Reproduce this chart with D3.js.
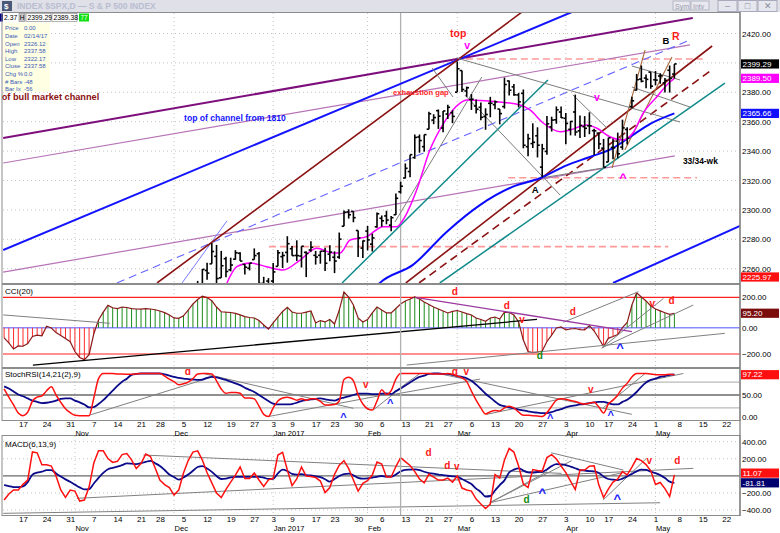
<!DOCTYPE html>
<html>
<head>
<meta charset="utf-8">
<title>$SPX daily</title>
<script src="https://cdn.jsdelivr.net/npm/d3@7/dist/d3.min.js"></script>
<style>
  body { margin: 0; background: #fff; }
  svg { display: block; font-family: "Liberation Sans", Arial, sans-serif; }
</style>
</head>
<body>
<svg id="chart" width="780" height="533"></svg>
<script>
'use strict';

// trading-day index: 0 = Mon 17 Oct 2016, 139 = Mon 8 May 2017
var firstDay = -4;   // first indicator value is Tue 11 Oct 2016

var weekTicks  = [0,5,10,15,20,25,29,34,39,44,49,53,57,62,66,71,76,81,86,90,95,100,105,110,115,120,124,129,134,139,144,149];
var weekLabels = ['17','24','31','7','14','21','28','5','12','19','27','3','9','17','23','30','6','13','21','27','6','13','20','27','3','10','17','24','1','8','15','22'];
var monthTicks  = [11,32,53,73,92,115,134];
var monthLabels = ['Nov','Dec','Jan 2017','Feb','Mar','Apr','May'];

var priceTicks = [2260,2280,2300,2320,2340,2360,2380,2400,2420];
var cciTicks   = [200,0,-200];
var stochTicks = [50,0];
var macdTicks  = [400,200,-200,-400];

// price bars, first bar = Thu 8 Dec 2016 (index 37)
var barFirst = 37;
var barOpen  = [2241.1,2249.7,2258.8,2263.3,2268.4,2253.8,2266.8,2259.2,2266.5,2270.5,2262.9,2260.3,2266.2,2270.2,2250.0,2251.6,2251.6,2261.6,2268.2,2271.1,2273.6,2269.0,2268.6,2271.1,2272.7,2269.1,2269.1,2271.9,2269.9,2267.8,2267.9,2288.9,2298.6,2299.0,2286.0,2274.0,2285.6,2276.7,2288.5,2294.3,2295.9,2289.6,2296.7,2312.3,2321.7,2326.1,2335.6,2349.6,2343.0,2354.9,2361.1,2367.5,2355.7,2365.2,2366.1,2380.1,2394.8,2380.9,2375.2,2370.7,2369.8,2363.5,2372.5,2371.6,2368.6,2370.3,2387.7,2383.7,2378.2,2379.3,2343.0,2345.1,2350.4,2329.1,2339.8,2356.5,2361.3,2366.6,2362.3,2354.8,2366.6,2353.8,2356.6,2357.2,2353.9,2352.2,2342.0,2332.6,2342.5,2346.8,2342.7,2354.7,2370.3,2381.5,2389.0,2389.7,2393.7,2388.5,2391.1,2386.5,2395.0,2392.4];
var barHigh  = [2251.7,2259.8,2264.0,2277.5,2276.2,2272.1,2268.1,2267.5,2272.6,2271.2,2263.2,2263.8,2273.8,2271.3,2254.5,2253.6,2263.9,2272.8,2271.5,2282.1,2275.5,2279.3,2275.3,2271.8,2278.7,2272.1,2272.0,2274.3,2276.0,2271.8,2284.6,2299.6,2300.4,2299.0,2286.0,2279.1,2289.1,2283.9,2298.3,2296.2,2299.4,2295.9,2311.1,2319.2,2331.6,2337.6,2351.3,2351.3,2351.2,2366.7,2365.1,2368.3,2367.3,2371.5,2367.8,2401.0,2394.8,2383.9,2378.8,2375.1,2373.1,2369.1,2376.9,2374.4,2368.6,2390.0,2388.1,2385.7,2379.6,2381.9,2351.8,2358.9,2356.2,2344.9,2363.8,2363.4,2370.4,2370.4,2365.9,2360.5,2378.4,2364.2,2363.8,2366.4,2355.2,2352.7,2348.3,2349.1,2348.4,2352.6,2361.4,2356.2,2377.0,2392.5,2398.2,2392.1,2393.7,2394.5,2392.9,2389.8,2398.2,2399.3];
var barLow   = [2237.6,2249.2,2252.4,2263.3,2248.4,2253.8,2254.2,2258.2,2266.1,2265.2,2256.1,2258.8,2266.2,2249.1,2244.6,2233.6,2245.1,2261.6,2260.5,2264.1,2268.8,2265.3,2260.8,2254.3,2271.5,2262.8,2263.4,2258.4,2265.0,2257.0,2266.7,2288.9,2294.1,2291.6,2268.0,2267.2,2272.4,2271.7,2287.9,2288.6,2290.2,2285.4,2296.6,2311.1,2321.4,2322.2,2334.8,2338.9,2339.6,2354.9,2358.3,2355.1,2352.9,2361.9,2359.0,2380.1,2380.2,2376.9,2368.0,2365.5,2361.0,2354.5,2363.0,2368.5,2358.2,2368.9,2377.8,2377.6,2369.7,2341.9,2336.5,2342.1,2335.7,2322.3,2337.6,2353.3,2358.6,2362.6,2344.7,2350.7,2350.5,2348.9,2349.6,2351.5,2337.3,2341.2,2329.0,2332.5,2334.5,2335.1,2340.9,2344.5,2369.2,2381.2,2386.8,2382.7,2382.4,2384.8,2385.8,2379.8,2379.8,2389.4];
var barClose = [2246.2,2259.5,2257.0,2271.7,2253.3,2262.0,2258.1,2262.5,2270.8,2265.2,2261.0,2263.8,2268.9,2249.9,2249.3,2238.8,2257.8,2270.8,2269.0,2277.0,2268.9,2268.9,2275.3,2270.4,2274.6,2267.9,2271.9,2263.7,2271.3,2265.2,2280.1,2298.4,2296.7,2294.7,2280.9,2278.9,2279.6,2280.9,2297.4,2292.6,2293.1,2294.7,2307.9,2316.1,2328.3,2337.6,2349.3,2347.2,2351.2,2365.4,2362.8,2363.8,2367.3,2369.8,2363.6,2396.0,2381.9,2383.1,2375.3,2368.4,2363.0,2364.9,2372.6,2373.5,2365.5,2385.3,2381.4,2378.3,2373.5,2344.0,2348.5,2346.0,2344.0,2341.6,2358.6,2361.1,2368.1,2362.7,2358.8,2360.2,2353.0,2357.5,2355.5,2357.2,2353.8,2344.9,2329.0,2349.0,2342.2,2338.2,2355.8,2348.7,2374.2,2388.6,2387.5,2388.8,2384.2,2388.3,2391.2,2388.1,2389.5,2399.3];

// moving averages: [day index, price]
var maFast = [[43.2,2250.3],[45.3,2261.4],[48.1,2263.9],[51.6,2261.4],[55.1,2259.1],[58.7,2265.9],[62.2,2273.9],[65.7,2270.7],[67.2,2270.7],[69.3,2279.5],[72.8,2281.8],[76.3,2288.6],[79.2,2288.6],[80.5,2293.1],[83.4,2313.5],[86.2,2340.7],[89.0,2358.4],[92.6,2372.7],[94.0,2374.8],[100.4,2373.6],[105.3,2371.4],[107.4,2368.0],[110.2,2359.1],[113.8,2353.2],[115.9,2354.4],[119.4,2357.8],[121.5,2355.7],[124.3,2349.8],[127.1,2347.6],[129.2,2352.3],[131.4,2365.9],[134.3,2377.0],[137.1,2387.2],[138,2389.5]];
var maSlow = [[74.0,2245.0],[75.6,2250.3],[82.6,2262.6],[89.8,2285.2],[96.8,2303.3],[103.8,2315.8],[109.5,2321.5],[115.3,2330.5],[120.1,2336.0],[125.0,2342.1],[128.6,2349.6],[132.8,2358.4],[138,2365.66]];

// indicator values, one per trading day from index -4 to 138
var cci = [-78,-116,-162,-139,-141,-121,-67,-56,-62,10,-2,-37,-60,-83,-107,-181,-226,-243,-205,-46,51,102,147,131,126,136,133,126,123,122,126,123,118,110,99,84,64,62,78,116,156,185,208,199,178,136,105,102,100,94,84,73,67,64,47,18,-10,31,70,107,134,103,95,95,103,110,31,47,38,54,24,116,235,202,149,64,38,54,97,136,116,97,97,126,156,176,189,203,189,169,153,136,123,110,97,107,113,103,93,84,64,54,42,64,70,57,103,100,84,38,-94,-181,-190,-185,-177,-105,-56,-2,5,-17,-10,-6,-14,-17,14,-25,-82,-143,-81,-67,-52,1,34,149,230,202,176,143,123,111,98,88,95.2];
var stochK = [64,45,27,8,2,10,36,45,48,60,69,50,33,18,9,3,2,2,2,43,88,100,100,100,99,99,98,98,99,100,100,100,100,100,94,87,81,74,76,80,88,99,100,100,99,83,64,54,56,56,54,43,43,41,24,5,0,20,36,43,45,42,38,41,38,41,41,35,27,27,28,36,86,91,83,50,29,18,15,36,62,51,60,87,100,100,100,100,100,100,100,99,99,99,100,98,94,90,81,59,38,20,6,11,14,13,20,24,20,10,3,3,2,1,0,9,24,38,41,40,37,35,31,29,31,33,22,8,29,38,50,66,77,92,100,100,100,99,97,97,97,98,97.22];
var stochD = [70,65,58,51,47,42,37,34,31,32,34,37,41,42,42,37,33,28,21,22,29,38,49,60,71,81,88,97,99,100,100,100,100,100,98,95,92,90,88,87,86,85,86,90,92,91,88,85,81,77,73,67,62,57,50,43,36,30,28,28,28,29,32,36,38,40,41,42,40,38,37,41,44,47,50,53,53,53,52,52,53,54,52,59,65,72,79,86,92,95,99,100,100,99,99,97,94,92,89,83,74,64,53,44,35,27,24,21,19,16,14,12,10,9,8,8,10,14,17,21,24,26,28,29,31,33,34,34,31,28,28,34,39,47,57,69,79,85,88,92,94,97,98];
var macd = [-283,-213,-166,-166,-100,-49,280,270,131,129,115,-2,-166,-252,-166,-178,-295,-283,-131,150,294,294,203,158,170,249,261,187,85,144,255,226,91,-49,-102,-137,-225,-166,33,179,279,293,185,37,-82,-201,-254,-158,-73,9,103,-32,-32,33,-49,-125,-47,-29,244,275,68,-114,-37,103,-2,-8,-20,-61,-196,-137,18,126,177,84,-49,-178,-88,-55,9,162,138,-14,-14,109,214,167,121,50,-37,-82,21,-14,-49,-49,-26,-73,-2,-143,-166,-178,-272,-330,-383,-330,15,-26,185,320,279,115,-96,-137,74,62,56,214,249,197,115,37,-61,-160,68,68,112,118,-108,-254,-155,-73,-37,50,12,103,203,179,132,59,-102,-78,-149,-242,11.07];
var macdSignal = [-108,-119,-131,-131,-123,-73,15,39,49,66,68,28,-8,-41,-70,-103,-135,-158,-155,-90,-23,35,78,94,109,126,146,143,138,148,164,176,148,115,68,16,-14,-45,-20,15,59,104,115,85,47,-2,-37,-32,-18,-11,-11,-11,-11,-11,-11,-21,-37,-34,28,73,56,23,15,21,9,4,-6,-14,-40,-68,-37,-2,21,26,6,-23,-33,-29,-20,-11,-2,-9,-9,16,52,70,73,75,68,48,33,26,15,9,1,-5,-11,-37,-67,-96,-149,-190,-242,-236,-172,-108,-53,39,73,88,62,41,39,45,48,75,115,138,134,126,109,89,68,62,56,52,33,-8,-37,-45,-49,-32,-6,21,53,73,70,49,33,9,-26,-68,-81.81];

// drawn trend lines on the price panel: [day1, price1, day2, price2]
var purpleThickLines = [[-4.2,2348.9,141.9,2430.5]];
var orchidLines      = [[-4.2,2331.9,141.3,2412.2],[-4.2,2257.7,138.1,2336.7]];
var blueThickLines   = [[-4.2,2272.7,116.3,2434.6],[125,2250.3,151.9,2289.1]];
var maroonLines      = [[28.4,2250.3,105.7,2434.6],[81.1,2250.3,146,2411.5]];
var maroonDashLines  = [[83.9,2250.3,146.2,2395.9]];
var blueDashLines    = [[19.9,2250.3,141.3,2415.6]];
var blueThinLines    = [[33.7,2250.3,43.2,2292.5]];
var tealLines        = [[67.6,2250.3,111.2,2388.4],[88.3,2250.3,148.7,2386.3]];
var brownLines       = [[124.8,2328.5,131.8,2408.8],[127.5,2340.8,137.5,2404.0]];
var greyLines        = [[91.9,2403.3,139.2,2359.8],[86.7,2396.5,91.1,2376.8],[93.6,2378.2,113.8,2310.1],[116.5,2378.2,123.7,2355.7],[109.7,2321.7,122.9,2328.5],[78.8,2291.8,97.2,2390.4],[129,2397.9,139.2,2388.4],[129,2383.6,141.3,2370.0]];
var pinkDashLines    = [[52.1,2275.0,136.7,2275.0],[102.8,2321.9,142.8,2321.9],[91.5,2402.7,144,2402.7]];

// indicator trend lines: [day1, value1, day2, value2]
var cciGreyLines   = [[-4.2,84,18.4,29],[81.3,-284,148.7,-43],[114.5,36,130.4,237],[122.6,-154,135.7,193],[122.6,-154,142,149]];
var cciBlackLines  = [[2.1,-284,108.9,55]];
var cciPurpleLines = [[83.1,200,129,-30]];
var stochGreyLines = [[14.2,3.5,40.3,92.6],[38.2,100,70,19],[52,0,77.4,52],[74.2,15,78.8,55],[77.8,50,84.1,100],[77.8,50,96.8,87],[88,100,129,5],[98.2,5,139.9,100],[122.9,20,131.8,100]];
var macdGreyLines  = [[25.5,244,114.1,29],[11.4,-263,142,88],[-4.2,-439,135,-315],[98.9,-315,116.2,177],[98.9,-315,111,48],[98.9,-315,127.2,40],[111.9,270,127.2,68],[122.9,-283,132.1,205]];

// annotations: [day, value, text]
var mainRedNotes     = [[92.2,2420.3,'top'],[138.3,2418.3,'R']];
var mainGapNotes     = [[84.3,2380.2,'exhaustion gap']];
var mainMagentaNotes = [[94.1,2412.2,'v'],[121.6,2376.8,'v']];
var mainMagentaCarets= [[127.1,2323.7,'^']];
var mainBlackNotes   = [[108.5,2313.5,'A'],[136.2,2414.9,'B']];
var mainWeekNotes    = [[139.8,2333.3,'33/34-wk']];
var mainBlueNotes    = [[44.9,2362.5,'top of channel from 1810']];
var mainChannelNotes = [[-4.5,2376.8,'of bull market channel']];
var cciRedNotes   = [[91.5,241,'d'],[102.5,149,'d'],[105.7,51,'v'],[116.5,105,'d'],[133.3,156,'v'],[137.4,178,'d']];
var cciGreenNotes = [[109.5,-215,'d']];
var cciCarets     = [[126.5,-131,'^']];
var stochRedNotes = [[34.9,104,'d'],[72.6,75,'v'],[91.5,104,'d'],[93.9,104,'v'],[120.3,63,'v']];
var stochCarets   = [[67.9,2,'^'],[77.8,34,'^'],[111.7,1,'^'],[124.5,7,'^']];
var macdRedNotes  = [[85.9,270,'d'],[89.9,118,'d'],[91.9,107,'v'],[132.7,185,'v'],[138.6,185,'d']];
var macdGreenNotes= [[106.7,-275,'d']];
var macdCarets    = [[110,-166,'^'],[125.9,-237,'^']];

var cursorDay = 80;

var infoLabels = ['Price','Date','Open','High','Low','Close','Chg %','# Bars','Bar Ix'];
var infoValues = ['0.00','02/14/17','2326.12','2337.58','2322.17','2337.58','0.0','-48','-56'];

// ---------------------------------------------------------------------------
var svg = d3.select('#chart');
var W = 780, H = 533, left = 3, right = 740;

var x      = d3.scaleLinear().domain([0, 139]).range([23, 679.1]);
var yMain  = d3.scaleLinear().domain([2260, 2420]).range([268.7, 33.5]);
var yCci   = d3.scaleLinear().domain([-200, 0, 200]).range([354, 327.7, 297.3]);
var yStoch = d3.scaleLinear().domain([0, 100]).range([416.5, 373.5]);
var yMacd  = d3.scaleLinear().domain([-400, 400]).range([510, 441.7]);

var panels = [
    {id: 'main',  top: 13,  bottom: 283},
    {id: 'cci',   top: 285, bottom: 367},
    {id: 'stoch', top: 369, bottom: 420},
    {id: 'macd',  top: 436, bottom: 515}
];

svg.append('rect').attr('width', W).attr('height', H).attr('fill', '#fff');

var defs = svg.append('defs');
panels.forEach(function(p) {
    defs.append('clipPath').attr('id', 'clip-' + p.id)
        .append('rect').attr('x', left).attr('y', p.top)
        .attr('width', right - left).attr('height', p.bottom - p.top);
});

var panelG = function(id) {
    return svg.append('g').attr('clip-path', 'url(#clip-' + id + ')');
};

var drawSegs = function(g, segs, ys, color, width, dash) {
    g.append('g').selectAll('line').data(segs).enter().append('line')
        .attr('x1', function(d) { return x(d[0]); })
        .attr('y1', function(d) { return ys(d[1]); })
        .attr('x2', function(d) { return x(d[2]); })
        .attr('y2', function(d) { return ys(d[3]); })
        .attr('stroke', color)
        .attr('stroke-width', width)
        .attr('stroke-dasharray', dash || null);
};

var drawNotes = function(g, notes, ys, color, size, anchor, weight, dy) {
    g.append('g').selectAll('text').data(notes).enter().append('text')
        .attr('x', function(d) { return x(d[0]); })
        .attr('y', function(d) { return ys(d[1]); })
        .attr('dy', dy || '0.35em')
        .attr('text-anchor', anchor || 'middle')
        .attr('font-size', size)
        .attr('font-weight', weight || 'bold')
        .attr('fill', color)
        .text(function(d) { return d[2]; });
};

var monthGrid = function(g, p) {
    g.append('g').selectAll('line').data(monthTicks).enter().append('line')
        .attr('x1', function(d) { return x(d); }).attr('x2', function(d) { return x(d); })
        .attr('y1', p.top).attr('y2', p.bottom)
        .attr('stroke', '#c4c4c4').attr('stroke-dasharray', '1,3');
};

var levelGrid = function(g, vals, ys) {
    g.append('g').selectAll('line').data(vals).enter().append('line')
        .attr('x1', left).attr('x2', right)
        .attr('y1', function(d) { return ys(d); }).attr('y2', function(d) { return ys(d); })
        .attr('stroke', '#c4c4c4').attr('stroke-dasharray', '1,3');
};

var rightAxis = function(ys, ticks) {
    var g = svg.append('g').attr('transform', 'translate(' + right + ',0)')
        .call(d3.axisRight(ys).tickValues(ticks).tickFormat(d3.format('.2f')).tickSize(0).tickPadding(2));
    g.select('.domain').remove();
    g.selectAll('text').attr('font-size', 8).attr('font-family', '"Liberation Sans", Arial, sans-serif').attr('fill', '#000');
};

var valueBox = function(yc, label, fill, color) {
    svg.append('rect').attr('x', right + 1).attr('y', yc - 4.6).attr('width', 38).attr('height', 9.2).attr('fill', fill);
    svg.append('text').attr('x', right + 2.5).attr('y', yc).attr('dy', '0.35em')
        .attr('font-size', 8).attr('fill', color || '#fff').text(label);
};

var days = d3.range(firstDay, firstDay + cci.length);

// ---------------- title bar ----------------
svg.append('rect').attr('width', W).attr('height', 12).attr('fill', '#dfe0e8');
svg.append('rect').attr('x', 2).attr('y', 1).attr('width', 10).attr('height', 10).attr('fill', '#4a5878');
svg.append('text').attr('x', 4).attr('y', 9).attr('font-size', 8).attr('font-weight', 'bold').attr('fill', '#fff').text('$');
svg.append('text').attr('x', 17).attr('y', 9).attr('font-size', 8.5).attr('font-weight', 'bold')
    .attr('fill', '#b9bdd0').text('INDEX $SPX,D \u2014 S & P 500 INDEX');
[['Sym', 673, 17], ['Intv', 691, 18]].forEach(function(b) {
    svg.append('rect').attr('x', b[1]).attr('y', 1).attr('width', b[2]).attr('height', 9)
        .attr('fill', '#e8e8ee').attr('stroke', '#b4b6c4');
    svg.append('text').attr('x', b[1] + 2).attr('y', 8.5).attr('font-size', 7).attr('fill', '#9a9cb0').text(b[0]);
});
[718, 738, 758].forEach(function(bx, k) {
    svg.append('rect').attr('x', bx).attr('y', 0.5).attr('width', 19).attr('height', 11)
        .attr('fill', '#e6e7ee').attr('stroke', '#a8aabb');
    svg.append('text').attr('x', bx + 9.5).attr('y', 9).attr('text-anchor', 'middle')
        .attr('font-size', 9).attr('fill', '#8a8ca0').text(['\u2013', '\u25A1', '\u2715'][k]);
});

// ---------------- price panel ----------------
var pMain = panels[0];
var gMain = panelG('main');
levelGrid(gMain, priceTicks, yMain);
monthGrid(gMain, pMain);
gMain.append('line').attr('x1', x(cursorDay)).attr('x2', x(cursorDay)).attr('y1', pMain.top).attr('y2', pMain.bottom)
    .attr('stroke', '#b0b0b0').attr('stroke-width', 1.3);

drawSegs(gMain, pinkDashLines, yMain, '#ff9a9a', 1.6, '7,4');
drawSegs(gMain, orchidLines, yMain, '#b673b6', 1.2);
drawSegs(gMain, purpleThickLines, yMain, '#7d0f7d', 2);
drawSegs(gMain, blueThickLines, yMain, '#1414ff', 2);
drawSegs(gMain, blueDashLines, yMain, '#6464ff', 1.1, '8,5');
drawSegs(gMain, blueThinLines, yMain, '#7a7aff', 1);
drawSegs(gMain, maroonLines, yMain, '#8b1212', 1.6);
drawSegs(gMain, maroonDashLines, yMain, '#8b1212', 1.6, '8,5');
drawSegs(gMain, tealLines, yMain, '#108a8a', 1.5);
drawSegs(gMain, brownLines, yMain, '#a86a3c', 1.1);
drawSegs(gMain, greyLines, yMain, '#7c7c7c', 1);

var maLine = d3.line().x(function(d) { return x(d[0]); }).y(function(d) { return yMain(d[1]); }).curve(d3.curveMonotoneX);
gMain.append('path').datum(maSlow).attr('d', maLine).attr('fill', 'none').attr('stroke', '#0a0aff').attr('stroke-width', 2);
gMain.append('path').datum(maFast).attr('d', maLine).attr('fill', 'none').attr('stroke', '#ff00ff').attr('stroke-width', 1.5);

var bars = barOpen.map(function(o, k) {
    return {day: barFirst + k, o: o, h: barHigh[k], l: barLow[k], c: barClose[k]};
});
var barG = gMain.append('g').attr('stroke', '#000').attr('stroke-width', 1.6);
barG.selectAll('.hl').data(bars).enter().append('line')
    .attr('x1', function(d) { return x(d.day); }).attr('x2', function(d) { return x(d.day); })
    .attr('y1', function(d) { return yMain(d.h); }).attr('y2', function(d) { return yMain(d.l); });
barG.selectAll('.op').data(bars).enter().append('line')
    .attr('x1', function(d) { return x(d.day) - 2.3; }).attr('x2', function(d) { return x(d.day); })
    .attr('y1', function(d) { return yMain(d.o); }).attr('y2', function(d) { return yMain(d.o); });
barG.selectAll('.cl').data(bars).enter().append('line')
    .attr('x1', function(d) { return x(d.day); }).attr('x2', function(d) { return x(d.day) + 2.3; })
    .attr('y1', function(d) { return yMain(d.c); }).attr('y2', function(d) { return yMain(d.c); });

drawNotes(gMain, mainRedNotes, yMain, '#ff1a1a', 10.5);
drawNotes(gMain, mainGapNotes, yMain, '#ff2a2a', 7.6);
drawNotes(gMain, mainMagentaNotes, yMain, '#ff00ff', 10.5);
drawNotes(gMain, mainMagentaCarets, yMain, '#ff00ff', 13, 'middle', 'bold', '0.55em');
drawNotes(gMain, mainBlackNotes, yMain, '#000', 9.5);
drawNotes(gMain, mainWeekNotes, yMain, '#000', 8.4, 'start');
drawNotes(gMain, mainBlueNotes, yMain, '#1414ff', 8.6);
drawNotes(svg, mainChannelNotes, yMain, '#8b1010', 9.2, 'start');

// data readout row and info box
svg.append('rect').attr('x', 0).attr('y', 13.5).attr('width', 3).attr('height', 8).attr('fill', '#000080');
svg.append('text').attr('x', 4).attr('y', 20.3).attr('font-size', 6.8).attr('fill', '#000').text('2.37');
svg.append('rect').attr('x', 19).attr('y', 13.5).attr('width', 6).attr('height', 8).attr('fill', '#c8c8c8').attr('stroke', '#808080').attr('stroke-width', 0.6);
svg.append('text').attr('x', 19.8).attr('y', 20.3).attr('font-size', 6.5).attr('fill', '#000').text('H');
[[26, '2399.29'], [52, '2389.38']].forEach(function(b) {
    svg.append('rect').attr('x', b[0]).attr('y', 13.5).attr('width', 25).attr('height', 8)
        .attr('fill', '#fff').attr('stroke', '#808080').attr('stroke-width', 0.6);
    svg.append('text').attr('x', b[0] + 1.5).attr('y', 20.3).attr('font-size', 6.8).attr('fill', '#000').text(b[1]);
});
svg.append('rect').attr('x', 79).attr('y', 13.5).attr('width', 10).attr('height', 8).attr('fill', '#10e010');
svg.append('text').attr('x', 80.5).attr('y', 20.3).attr('font-size', 6.5).attr('fill', '#fff').text('77');

svg.append('rect').attr('x', 3).attr('y', 23).attr('width', 47).attr('height', 69).attr('fill', '#ffffe4');
var info = svg.append('g').attr('font-size', 6).attr('fill', '#3a5ab8');
infoLabels.forEach(function(lbl, k) {
    info.append('text').attr('x', 5).attr('y', 30.3 + k * 7.6).text(lbl);
    info.append('text').attr('x', 24).attr('y', 30.3 + k * 7.6).text(infoValues[k]);
});

// ---------------- CCI panel ----------------
var pCci = panels[1];
var gCci = panelG('cci');
monthGrid(gCci, pCci);
gCci.append('g').selectAll('line').data([200, -200]).enter().append('line')
    .attr('x1', left).attr('x2', right)
    .attr('y1', function(d) { return yCci(d); }).attr('y2', function(d) { return yCci(d); })
    .attr('stroke', '#ff2020').attr('stroke-width', 1.2);
gCci.append('line').attr('x1', left).attr('x2', right).attr('y1', yCci(0)).attr('y2', yCci(0))
    .attr('stroke', '#8a8aff').attr('stroke-width', 1.4);
gCci.append('g').selectAll('line').data(days).enter().append('line')
    .attr('x1', function(d) { return x(d); }).attr('x2', function(d) { return x(d); })
    .attr('y1', yCci(0))
    .attr('y2', function(d, k) { return yCci(cci[k]); })
    .attr('stroke', function(d, k) { return cci[k] >= 0 ? '#1c8c1c' : '#ff2a2a'; })
    .attr('stroke-width', 1);
var cciLine = d3.line().x(function(d) { return x(d); }).y(function(d, k) { return yCci(cci[k]); });
gCci.append('path').datum(days).attr('d', cciLine).attr('fill', 'none').attr('stroke', '#8b1a1a').attr('stroke-width', 1.2);
drawSegs(gCci, cciGreyLines, yCci, '#808080', 1);
drawSegs(gCci, cciBlackLines, yCci, '#000', 1.3);
drawSegs(gCci, cciPurpleLines, yCci, '#9a3aa0', 1.3);
drawNotes(gCci, cciRedNotes, yCci, '#ff1a1a', 10);
drawNotes(gCci, cciGreenNotes, yCci, '#108a10', 10);
drawNotes(gCci, cciCarets, yCci, '#1a1aff', 13, 'middle', 'bold', '0.55em');
svg.append('text').attr('x', 5).attr('y', 291).attr('dy', '0.35em').attr('font-size', 8).attr('fill', '#000').text('CCI(20)');

// ---------------- StochRSI panel ----------------
var pSt = panels[2];
var gSt = panelG('stoch');
monthGrid(gSt, pSt);
gSt.append('g').selectAll('line').data([80, 50, 20]).enter().append('line')
    .attr('x1', left).attr('x2', right)
    .attr('y1', function(d) { return yStoch(d); }).attr('y2', function(d) { return yStoch(d); })
    .attr('stroke', function(d) { return d === 50 ? '#6a6a6a' : '#a8a8a8'; })
    .attr('stroke-width', function(d) { return d === 50 ? 1.3 : 1; });
drawSegs(gSt, stochGreyLines, yStoch, '#808080', 1);
var kLine = d3.line().x(function(d) { return x(d); }).y(function(d, k) { return yStoch(stochK[k]); }).curve(d3.curveMonotoneX);
var dLine = d3.line().x(function(d) { return x(d); }).y(function(d, k) { return yStoch(stochD[k]); }).curve(d3.curveMonotoneX);
gSt.append('path').datum(days).attr('d', dLine).attr('fill', 'none').attr('stroke', '#0a0a8a').attr('stroke-width', 1.8);
gSt.append('path').datum(days).attr('d', kLine).attr('fill', 'none').attr('stroke', '#ff1010').attr('stroke-width', 1.5);
drawNotes(gSt, stochRedNotes, yStoch, '#ff1a1a', 10);
drawNotes(gSt, stochCarets, yStoch, '#1a1aff', 11, 'middle', 'bold', '0.5em');
svg.append('text').attr('x', 5).attr('y', 374).attr('dy', '0.35em').attr('font-size', 8).attr('fill', '#000').text('StochRSI(14,21(2),9)');

// ---------------- MACD panel ----------------
var pMd = panels[3];
var gMd = panelG('macd');
monthGrid(gMd, pMd);
levelGrid(gMd, macdTicks, yMacd);
gMd.append('line').attr('x1', left).attr('x2', right).attr('y1', yMacd(0)).attr('y2', yMacd(0))
    .attr('stroke', '#6a6a6a').attr('stroke-width', 1.3);
drawSegs(gMd, macdGreyLines, yMacd, '#808080', 1);
var mLine = d3.line().x(function(d) { return x(d); }).y(function(d, k) { return yMacd(macd[k]); });
var sLine = d3.line().x(function(d) { return x(d); }).y(function(d, k) { return yMacd(macdSignal[k]); }).curve(d3.curveMonotoneX);
gMd.append('path').datum(days).attr('d', sLine).attr('fill', 'none').attr('stroke', '#0a0a8a').attr('stroke-width', 1.8);
gMd.append('path').datum(days).attr('d', mLine).attr('fill', 'none').attr('stroke', '#ff1010').attr('stroke-width', 1.5);
drawNotes(gMd, macdRedNotes, yMacd, '#ff1a1a', 10);
drawNotes(gMd, macdGreenNotes, yMacd, '#108a10', 10);
drawNotes(gMd, macdCarets, yMacd, '#1a1aff', 13, 'middle', 'bold', '0.55em');
svg.append('text').attr('x', 5).attr('y', 444).attr('dy', '0.35em').attr('font-size', 8).attr('fill', '#000').text('MACD(6,13,9)');

// cursor line through the indicator panels
panels.slice(1).forEach(function(p) {
    svg.append('line').attr('x1', x(cursorDay)).attr('x2', x(cursorDay)).attr('y1', p.top).attr('y2', p.bottom)
        .attr('stroke', '#b0b0b0').attr('stroke-width', 1.3);
});

// ---------------- frames ----------------
panels.forEach(function(p) {
    svg.append('rect').attr('x', left - 1).attr('y', p.top - 0.5).attr('width', right - left + 1).attr('height', p.bottom - p.top + 1)
        .attr('fill', 'none').attr('stroke', '#8c8c8c').attr('stroke-width', 1);
});
svg.append('line').attr('x1', right).attr('x2', right).attr('y1', 12).attr('y2', 516).attr('stroke', '#7a7a7a').attr('stroke-width', 1.2);

// ---------------- right axes ----------------
rightAxis(yMain, priceTicks);
rightAxis(yCci, cciTicks);
rightAxis(yStoch, stochTicks);
rightAxis(yMacd, macdTicks);

valueBox(yMain(2399.29), '2399.29', '#000');
valueBox(yMain(2389.50), '2389.50', '#ff00ff');
valueBox(yMain(2365.66), '2365.66', '#1010ff');
valueBox(pMain.bottom - 6, '2225.97', '#ff1010');
valueBox(yCci(95.2), '95.20', '#7a0c0c');
valueBox(yStoch(97.22), '97.22', '#ff1010');
valueBox(yMacd(11.07) - 1.8, '11.07', '#ff1010');
valueBox(yMacd(-81.81), '-81.81', '#00006e');

// ---------------- date axes ----------------
var dateAxis = function(yDay, yMonth) {
    var gd = svg.append('g').attr('transform', 'translate(0,' + yDay + ')')
        .call(d3.axisBottom(x).tickValues(weekTicks).tickFormat(function(d, k) { return weekLabels[k]; }).tickSize(0));
    gd.select('.domain').remove();
    gd.selectAll('text').attr('y', 0).attr('dy', '0.35em').attr('font-size', 8)
        .attr('font-family', '"Liberation Sans", Arial, sans-serif').attr('fill', '#000');
    var gm = svg.append('g').attr('transform', 'translate(0,' + yMonth + ')')
        .call(d3.axisBottom(x).tickValues(monthTicks).tickFormat(function(d, k) { return monthLabels[k]; }).tickSize(0));
    gm.select('.domain').remove();
    gm.selectAll('text').attr('y', 0).attr('dy', '0.35em').attr('text-anchor', 'start').attr('font-size', 7.5)
        .attr('font-family', '"Liberation Sans", Arial, sans-serif').attr('fill', '#000');
};
dateAxis(424, 433.3);
dateAxis(519.3, 528.5);
</script>
</body>
</html>
